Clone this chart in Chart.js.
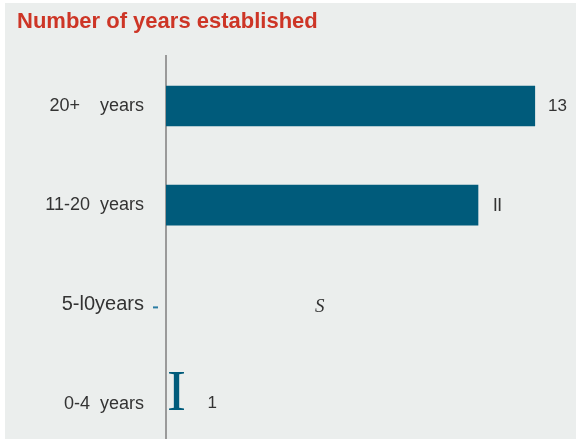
<!DOCTYPE html>
<html>
<head>
<meta charset="utf-8">
<script src="https://cdn.jsdelivr.net/npm/chart.js@4/dist/chart.umd.min.js"></script>
<style>
  html, body { margin: 0; padding: 0; width: 578px; height: 439px; background: #ffffff; overflow: hidden; }
  #panel { position: absolute; left: 5px; top: 3px; width: 571px; height: 436px; background: #ebeeed; overflow: hidden; }
  #chart { display: block; }
</style>
</head>
<body>
<div id="panel"><canvas id="chart" width="571" height="461"></canvas></div>
<script>
const categories = ['20+    years', '11-20  years', '5-l0years', '0-4  years'];
const counts = [13, 11, 5, 1];
const valueLabels = ['13', 'll', 'S', '1'];

const barBlue = '#005b7b';
const textGrey = '#333333';
const sans = '"Liberation Sans", Arial, sans-serif';
const serif = '"Liberation Serif", serif';

// bars 3 and 4 are not filled: row 4 gets a serif "I" glyph, row 3 only its label
const barFills = [barBlue, barBlue, 'rgba(0,0,0,0)', 'rgba(0,0,0,0)'];

const valueLabelPlugin = {
    id: 'valueLabels',
    afterDatasetsDraw(chart) {
        const ctx = chart.ctx;
        const bars = chart.getDatasetMeta(0).data;
        ctx.save();
        ctx.textBaseline = 'middle';
        ctx.textAlign = 'left';
        ctx.fillStyle = textGrey;
        bars.forEach((bar, i) => {
            const text = valueLabels[i];
            if (text === 'S') {
                ctx.font = 'italic 19px ' + serif;
                ctx.fillText(text, bar.x + 7, bar.y + 3);
            } else if (text === 'll') {
                ctx.font = '19px ' + sans;
                ctx.fillText(text, bar.x + 15, bar.y + 1);
            } else {
                ctx.font = '17px ' + sans;
                ctx.fillText(text, bar.x + 13, bar.y);
            }
        });

        // the short bar is drawn as a big serif capital I sitting on the label baseline
        const last = bars[bars.length - 1];
        ctx.font = '57px ' + serif;
        ctx.fillStyle = barBlue;
        ctx.textBaseline = 'alphabetic';
        ctx.fillText('I', last.base + 1, last.y + 6);

        // small teal tick beside the 5-10 label
        const ty = chart.scales.y.getPixelForTick(2);
        ctx.strokeStyle = '#2a7ca3';
        ctx.lineWidth = 2;
        ctx.beginPath();
        ctx.moveTo(chart.chartArea.left - 13, ty + 3);
        ctx.lineTo(chart.chartArea.left - 8, ty + 3);
        ctx.stroke();
        ctx.restore();
    }
};

new Chart(document.getElementById('chart').getContext('2d'), {
    type: 'bar',
    data: {
        labels: categories,
        datasets: [{
            data: counts,
            backgroundColor: barFills,
            borderWidth: 0,
            barPercentage: 0.41,
            categoryPercentage: 1
        }]
    },
    options: {
        indexAxis: 'y',
        responsive: false,
        animation: false,
        layout: { padding: { left: 12, right: 0, top: 0, bottom: 0 } },
        plugins: {
            legend: { display: false },
            tooltip: { enabled: false },
            title: {
                display: true,
                text: 'Number of years established',
                align: 'start',
                color: '#cd3526',
                font: { family: sans, size: 22, weight: 'bold' },
                padding: { top: 6, bottom: 21 }
            }
        },
        scales: {
            x: {
                display: false,
                min: 0,
                max: 14.44
            },
            y: {
                // tick marks stay hidden; their length only spaces the labels off the axis
                grid: { display: false, drawTicks: true, tickLength: 22 },
                border: { display: true, color: '#9a9a9a', width: 2 },
                ticks: {
                    color: textGrey,
                    padding: 0,
                    font: (c) => ({ family: sans, size: c.index === 2 ? 20 : 18 })
                },
                afterFit(scale) { scale.width = 149; }
            }
        }
    },
    plugins: [valueLabelPlugin]
});
</script>
</body>
</html>
